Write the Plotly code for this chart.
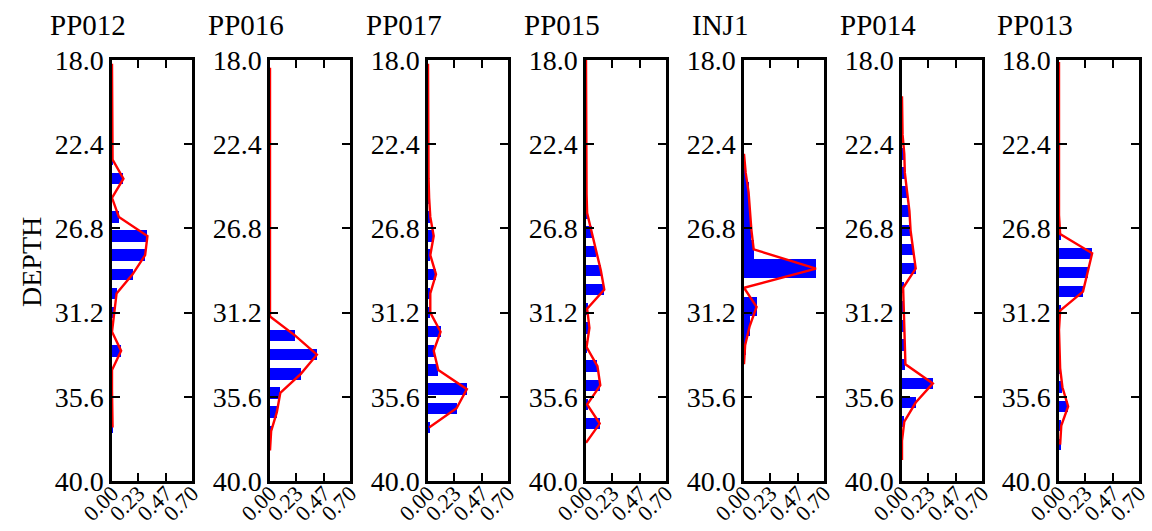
import plotly.graph_objects as go

W, H = 1152, 531

wells = ["PP012", "PP016", "PP017", "PP015", "INJ1", "PP014", "PP013"]

pp012_depth = [18.2, 19.2, 20.2, 21.2, 22.2, 23.2, 24.2, 25.2, 26.2, 27.2, 28.2, 29.2, 30.2, 31.2, 32.2, 33.2, 34.2, 35.2, 36.2, 37.2]
pp012_val = [0, 0, 0, 0, 0, 0.005, 0.10, 0.0, 0.06, 0.31, 0.29, 0.18, 0.04, 0.02, 0.0, 0.08, 0.0, 0.0, 0.0, 0.005]

pp016_depth = [18.4, 19.4, 20.4, 21.4, 22.4, 23.4, 24.4, 25.4, 26.4, 27.4, 28.4, 29.4, 30.4, 31.4, 32.4, 33.4, 34.4, 35.4, 36.4, 37.4, 38.4]
pp016_val = [0, 0, 0, 0, 0, 0, 0, 0, 0, 0, 0, 0, 0, 0.0, 0.22, 0.41, 0.27, 0.09, 0.06, 0.01, 0.0]

pp017_depth = [18.2, 19.2, 20.2, 21.2, 22.2, 23.2, 24.2, 25.2, 26.2, 27.2, 28.2, 29.2, 30.2, 31.2, 32.2, 33.2, 34.2, 35.2, 36.2, 37.2]
pp017_val = [0, 0, 0, 0, 0, 0, 0.005, 0.01, 0.02, 0.05, 0.02, 0.07, 0.02, 0.02, 0.11, 0.05, 0.09, 0.34, 0.25, 0.01]

pp015_depth = [18.0, 19.0, 20.0, 21.0, 22.0, 23.0, 24.0, 25.0, 26.0, 27.0, 28.0, 29.0, 30.0, 31.0, 32.0, 33.0, 34.0, 35.0, 36.0, 37.0, 38.0]
pp015_val = [0, 0, 0, 0, 0, 0, 0, 0.005, 0.01, 0.05, 0.09, 0.13, 0.16, 0.01, 0.03, 0.005, 0.10, 0.125, 0.01, 0.12, 0.0]

inj1_depth = [22.9, 23.9, 24.9, 25.9, 26.9, 27.9, 28.9, 29.9, 30.9, 31.9, 32.9, 33.9]
inj1_val = [0.0, 0.015, 0.04, 0.05, 0.065, 0.085, 0.63, 0.0, 0.11, 0.05, 0.01, 0.0]

pp014_depth = [19.9, 20.9, 21.9, 22.9, 23.9, 24.9, 25.9, 26.9, 27.9, 28.9, 29.9, 30.9, 31.9, 32.9, 33.9, 34.9, 35.9, 36.9, 37.9, 38.9]
pp014_val = [0, 0, 0.005, 0.02, 0.025, 0.045, 0.065, 0.075, 0.10, 0.12, 0.01, 0.015, 0.02, 0.025, 0.03, 0.27, 0.12, 0.02, 0.0, 0.0]

pp013_depth = [18.1, 19.1, 20.1, 21.1, 22.1, 23.1, 24.1, 25.1, 26.1, 27.1, 28.1, 29.1, 30.1, 31.1, 32.1, 33.1, 34.1, 35.1, 36.1, 37.1, 38.1]
pp013_val = [0, 0, 0, 0, 0, 0, 0, 0, 0, 0.01, 0.29, 0.25, 0.21, 0.01, 0.0, 0.005, 0.01, 0.03, 0.08, 0.02, 0.01]

depths = [pp012_depth, pp016_depth, pp017_depth, pp015_depth, inj1_depth, pp014_depth, pp013_depth]
values = [pp012_val, pp016_val, pp017_val, pp015_val, inj1_val, pp014_val, pp013_val]

y_ticks = [18.0, 22.4, 26.8, 31.2, 35.6, 40.0]
x_ticks = [0.0, 0.23, 0.47, 0.70]
x_ticktext = ["0.00", "0.23", "0.47", "0.70"]

FONT = "Liberation Serif"
panel_left = [112, 270, 428, 586, 744, 902, 1059]
panel_w = 80
top_px, bot_px = 60, 481

fig = go.Figure()
layout = dict(
    width=W, height=H,
    margin=dict(l=0, r=0, t=0, b=0),
    paper_bgcolor="white", plot_bgcolor="white",
    showlegend=False,
    font=dict(family=FONT, color="black"),
    bargap=0,
)
annotations = []
for i, name in enumerate(wells):
    n = i + 1
    xa = "x" if n == 1 else f"x{n}"
    ya = "y" if n == 1 else f"y{n}"
    bw = 1.0 if name == "INJ1" else 0.6
    fig.add_trace(go.Bar(
        x=values[i], y=depths[i], orientation="h", width=bw,
        marker=dict(color="#0000FF", line=dict(width=0)),
        xaxis=xa, yaxis=ya,
    ))
    fig.add_trace(go.Scatter(
        x=values[i], y=depths[i], mode="lines",
        line=dict(color="#FF0000", width=2.4),
        xaxis=xa, yaxis=ya, cliponaxis=True,
    ))
    x0 = panel_left[i] / W
    x1 = (panel_left[i] + panel_w) / W
    layout["xaxis" if n == 1 else f"xaxis{n}"] = dict(
        domain=[x0, x1], anchor=ya, range=[0, 0.70], automargin=False,
        tickvals=x_ticks, ticktext=x_ticktext, tickangle=-45,
        ticklabelstandoff=-12,
        ticks="inside", ticklen=8, tickwidth=2, tickcolor="black",
        showline=True, linecolor="black", linewidth=2.5, mirror="ticks",
        showgrid=False, zeroline=False,
        tickfont=dict(family=FONT, size=22, color="black"),
    )
    layout["yaxis" if n == 1 else f"yaxis{n}"] = dict(
        domain=[1 - bot_px / H, 1 - top_px / H], anchor=xa, range=[40, 18],
        automargin=False,
        tickvals=y_ticks, ticktext=[f"{v:.1f}" for v in y_ticks],
        ticks="inside", ticklen=8, tickwidth=2, tickcolor="black",
        showline=True, linecolor="black", linewidth=2.5, mirror="ticks",
        showgrid=False, zeroline=False,
        tickfont=dict(family=FONT, size=28, color="black"),
    )
    annotations.append(dict(
        text=name, x=(panel_left[i] - 24) / W, y=1 - 25 / H,
        xref="paper", yref="paper", xanchor="center", yanchor="middle",
        showarrow=False, font=dict(family=FONT, size=29, color="black"),
    ))

annotations.append(dict(
    text="DEPTH", x=31 / W, y=1 - 262 / H, xref="paper", yref="paper",
    xanchor="center", yanchor="middle", textangle=-90, showarrow=False,
    font=dict(family=FONT, size=28, color="black"),
))
layout["annotations"] = annotations
fig.update_layout(**layout)
fig.write_html("out.html")
